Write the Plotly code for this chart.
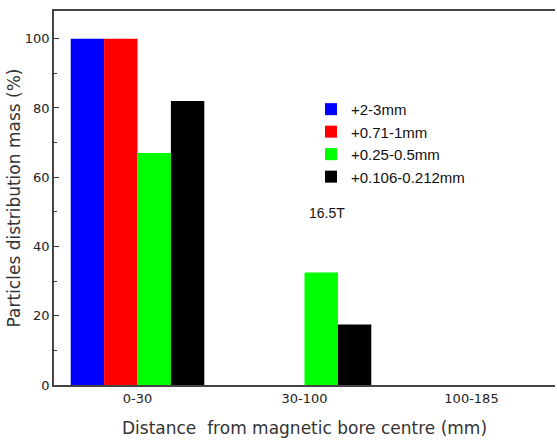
import plotly.graph_objects as go

categories = ["0-30", "30-100", "100-185"]
series_names = ["+2-3mm", "+0.71-1mm", "+0.25-0.5mm", "+0.106-0.212mm"]
series_colors = ["#0000FF", "#FF0000", "#00FF00", "#000000"]
values_2_3 = [100, 0, 0]
values_071_1 = [100, 0, 0]
values_025_05 = [67, 32.5, 0]
values_0106_0212 = [82, 17.5, 0]
y_ticks = [0, 20, 40, 60, 80, 100]

series_values = [values_2_3, values_071_1, values_025_05, values_0106_0212]

fig = go.Figure()
for name, color, vals in zip(series_names, series_colors, series_values):
    fig.add_trace(go.Bar(x=categories, y=vals, name=name,
                         marker=dict(color=color, line=dict(width=0))))

fig.update_layout(
    width=557, height=443,
    margin=dict(l=54, r=2, t=11, b=58),
    paper_bgcolor="white", plot_bgcolor="white",
    barmode="group", bargap=0.2, bargroupgap=0,
    font=dict(family="DejaVu Sans", color="#222"),
    legend=dict(x=0.513, y=0.781, xanchor="left", yanchor="top",
                font=dict(family="Liberation Sans", size=15, color="#111"),
                bgcolor="rgba(0,0,0,0)", tracegroupgap=0, itemwidth=30),
    showlegend=True,
)
fig.update_xaxes(showline=True, linecolor="#444", linewidth=2, mirror=True,
                 ticks="", tickfont=dict(size=13, color="#222"),
                 title=dict(text="Distance  from magnetic bore centre (mm)",
                            font=dict(size=17, color="#333"), standoff=18),
                 range=[-0.5, 2.5])
fig.update_yaxes(showline=True, linecolor="#444", linewidth=1.5, mirror=False,
                 range=[0, 108], tickvals=y_ticks, ticks="inside", ticklen=5,
                 tickcolor="#333", showgrid=False, zeroline=False,
                 tickfont=dict(size=13, color="#222"),
                 minor=dict(dtick=10, ticks="inside", ticklen=3, tickcolor="#333"),
                 title=dict(text="Particles distribution mass (%)",
                            font=dict(size=17, color="#333"), standoff=0))
fig.add_annotation(text="16.5T", xref="paper", yref="paper", x=0.505, y=0.46,
                   xanchor="left", yanchor="middle", showarrow=False,
                   font=dict(family="Liberation Sans", size=14, color="#111"))
fig.write_html("out.html")
